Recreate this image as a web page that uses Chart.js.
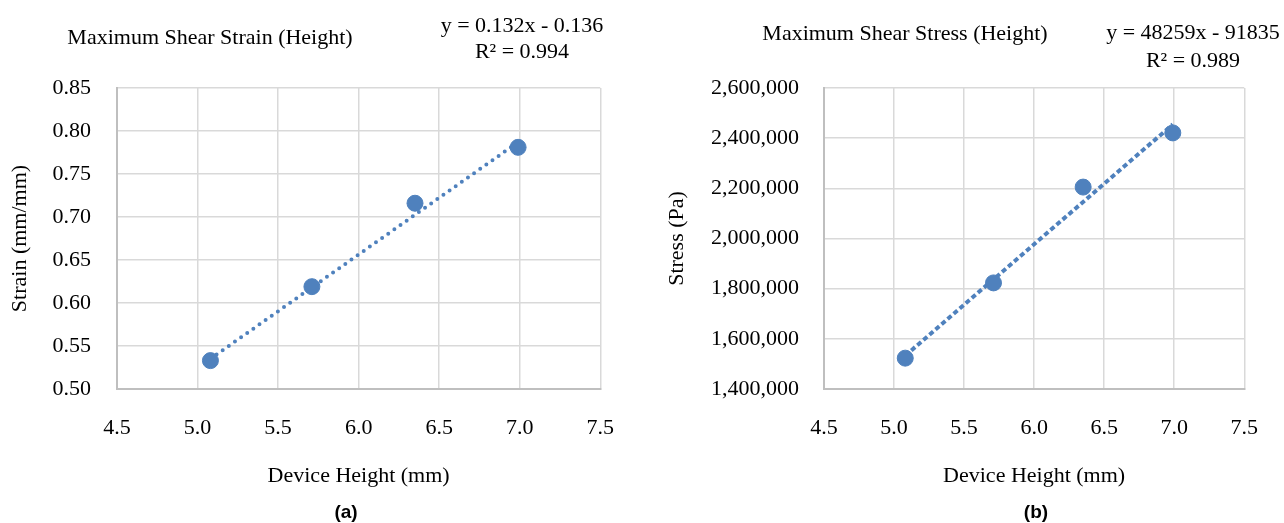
<!DOCTYPE html>
<html>
<head>
<meta charset="utf-8">
<script src="https://cdn.jsdelivr.net/npm/chart.js@4"></script>
<style>
  body { margin: 0; background: #fff; }
  #wrap { position: relative; width: 1284px; height: 523px; overflow: hidden; background: #fff; }
  canvas { position: absolute; top: 0; }
  .txt { position: absolute; font-family: "Liberation Serif", "Times New Roman", serif; font-size: 22px;
         line-height: 22px; color: #000; white-space: nowrap; transform: translateX(-50%); }
  .lab { position: absolute; font-family: "Liberation Sans", Arial, sans-serif; font-weight: bold; font-size: 19px;
         line-height: 19px; color: #000; white-space: nowrap; transform: translateX(-50%); }
</style>
</head>
<body>
<div id="wrap">
  <canvas id="strain_chart" style="left:0px"></canvas>
  <canvas id="stress_chart" style="left:640px"></canvas>

  <div class="txt" style="left:210px; top:26px">Maximum Shear Strain (Height)</div>
  <div class="txt" style="left:522px; top:14px">y = 0.132x - 0.136</div>
  <div class="txt" style="left:522px; top:40px">R² = 0.994</div>
  <div class="lab" style="left:346px; top:502px">(a)</div>

  <div class="txt" style="left:905px; top:22px">Maximum Shear Stress (Height)</div>
  <div class="txt" style="left:1193px; top:21px">y = 48259x - 91835</div>
  <div class="txt" style="left:1193px; top:49px">R² = 0.989</div>
  <div class="lab" style="left:1036px; top:502px">(b)</div>
</div>

<script>
// data
var heights = [5.08, 5.71, 6.35, 6.99]
var strain = [0.533, 0.619, 0.716, 0.781]
var stress = [1523000, 1823000, 2205000, 2421000]

// trendline end points (first and last height)
var trendX = [5.08, 6.99]
var strainTrend = [0.535, 0.787]
var stressTrend = [1533000, 2455000]

// axis ranges [min, max, step]
var xAxis = [4.5, 7.5, 0.5]
var strainAxis = [0.50, 0.85, 0.05]
var stressAxis = [1400000, 2600000, 200000]

var blue = '#4f81bd'
var serif = "'Liberation Serif', 'Times New Roman', serif"

function points(xs, ys){
  var out = []
  for (var i = 0; i < xs.length; i++){
    out.push({x: xs[i], y: ys[i]})
  }
  return out
}

function makeChart(id, w, box, ys, trend, yRange, yFmt, yTitle, lineStyle){
  var canvas = document.getElementById(id)
  canvas.width = w
  canvas.height = 523
  return new Chart(canvas.getContext('2d'), {
    type: 'scatter',
    data: {
      datasets: [{
        data: points(heights, ys),
        backgroundColor: blue,
        borderColor: blue,
        pointRadius: 8,
        pointHoverRadius: 8
      }, {
        data: points(trendX, trend),
        showLine: true,
        pointRadius: 0,
        borderColor: blue,
        borderWidth: lineStyle.width,
        borderDash: lineStyle.dash,
        borderCapStyle: lineStyle.cap
      }]
    },
    options: {
      responsive: false,
      animation: false,
      events: [],
      layout: { padding: { left: 0, top: box.top, right: w - box.right, bottom: 0 } },
      plugins: { legend: { display: false }, tooltip: { enabled: false } },
      scales: {
        x: {
          type: 'linear',
          min: xAxis[0], max: xAxis[1],
          afterFit: function(s){ s.height = 523 - box.bottom },
          ticks: {
            stepSize: xAxis[2],
            padding: 26,
            color: '#000',
            font: { family: serif, size: 22 },
            callback: function(v){ return v.toFixed(1) }
          },
          grid: { color: '#d9d9d9', lineWidth: 1.5, drawTicks: false },
          border: { color: '#bfbfbf', width: 2 },
          title: {
            display: true, text: 'Device Height (mm)', color: '#000',
            font: { family: serif, size: 22 }, padding: { top: 0, bottom: 34 }
          }
        },
        y: {
          min: yRange[0], max: yRange[1],
          afterFit: function(s){ s.width = box.left },
          ticks: {
            stepSize: yRange[2],
            padding: box.tickPad,
            color: '#000',
            font: { family: serif, size: 22 },
            callback: yFmt
          },
          grid: { color: '#d9d9d9', lineWidth: 1.5, drawTicks: false },
          border: { color: '#bfbfbf', width: 2 },
          title: {
            display: true, text: yTitle, color: '#000',
            font: { family: serif, size: 22 }, padding: { top: box.titlePad, bottom: 0 }
          }
        }
      }
    }
  })
}

var strain_chart = makeChart('strain_chart', 640,
  { left: 117, right: 601, top: 88, bottom: 389, tickPad: 26, titlePad: 7 },
  strain, strainTrend, strainAxis,
  function(v){ return v.toFixed(2) }, 'Strain (mm/mm)',
  { width: 4, dash: [0, 7.5], cap: 'round' })

var stress_chart = makeChart('stress_chart', 644,
  { left: 184, right: 618, top: 88, bottom: 389, tickPad: 25, titlePad: 24 },
  stress, stressTrend, stressAxis,
  function(v){ return v.toLocaleString('en-US') }, 'Stress (Pa)',
  { width: 4, dash: [5, 3], cap: 'butt' })
</script>
</body>
</html>
